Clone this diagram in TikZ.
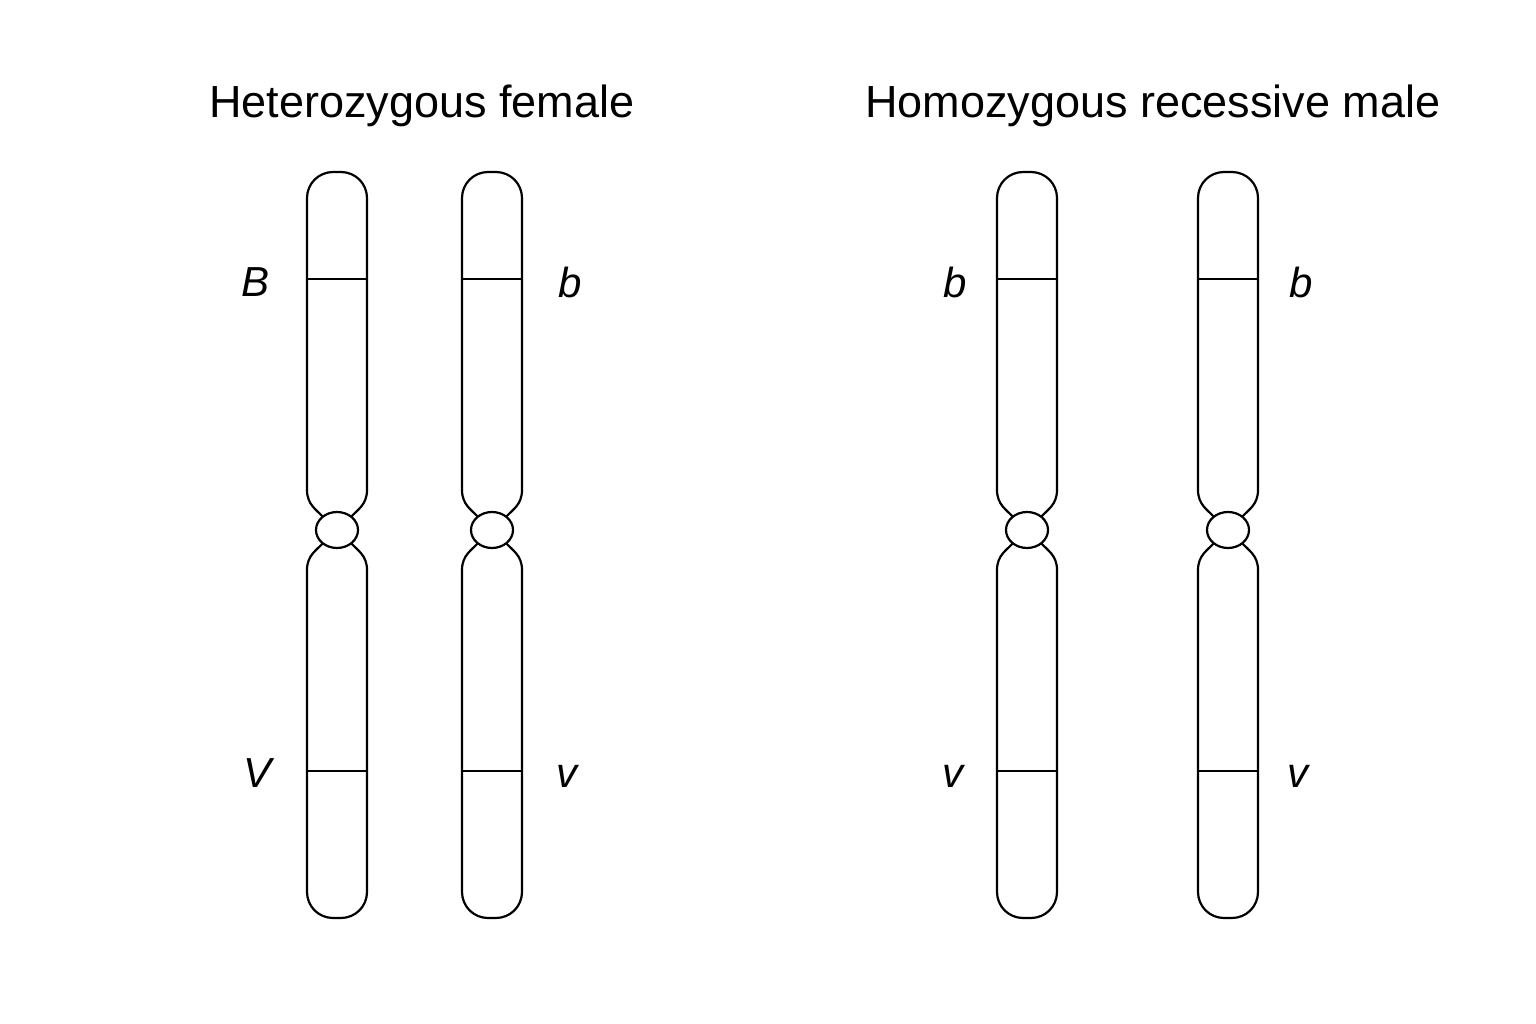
\documentclass[tikz,border=0pt]{standalone}
\usepackage{fontspec}
\setmainfont{Liberation Sans}
\begin{document}
\begin{tikzpicture}[x=1pt,y=-1pt,line width=2.2pt,
  title/.style={font=\fontsize{45}{50}\selectfont},
  gene/.style={font=\fontsize{42}{46}\selectfont\itshape}]
\useasboundingbox[fill=white] (0,0) rectangle (1536,1024);
\newcommand{\chrom}[2]{%
  \begin{scope}[shift={(#1,0)}]
  \draw[rounded corners=26] (-30,490) -- (-30,172) -- (30,172) -- (30,490);
  \draw (30,490) .. controls (30,505) and (20,510) .. (14,517);
  \draw (-30,490) .. controls (-30,505) and (-20,510) .. (-14,517);
  \draw[rounded corners=26] (-30,570) -- (-30,918) -- (30,918) -- (30,570);
  \draw (30,570) .. controls (30,555) and (20,550) .. (14,543);
  \draw (-30,570) .. controls (-30,555) and (-20,550) .. (-14,543);
  \draw (0,530) ellipse [x radius=21, y radius=18];
  \draw (-30,279) -- (30,279);
  \draw (-30,771) -- (30,771);
  \coordinate (#2) at (0,530);
  \end{scope}}
\chrom{337}{c1}\chrom{492}{c2}\chrom{1027}{c3}\chrom{1228}{c4}
\node[title] (t1) at (422,106) {Heterozygous female};
\node[title] (t2) at (1153,106) {Homozygous recessive male};
\node[gene] (g1) at (256,282) {B};
\node[gene] (g2) at (258,773) {V};
\node[gene] (g3) at (570,282) {b};
\node[gene] (g4) at (567,776) {v};
\node[gene] (g5) at (955,282) {b};
\node[gene] (g6) at (953,776) {v};
\node[gene] (g7) at (1301,282) {b};
\node[gene] (g8) at (1298,776) {v};
\end{tikzpicture}
\end{document}
